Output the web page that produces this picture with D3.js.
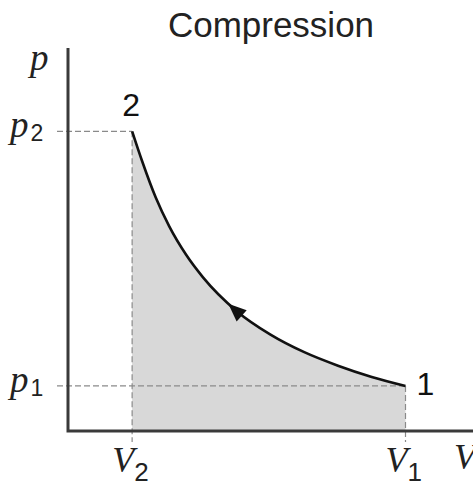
<!DOCTYPE html>
<html>
<head>
<meta charset="utf-8">
<script src="https://cdn.jsdelivr.net/npm/d3@7"></script>
<style>
  html, body { margin: 0; padding: 0; background: #fff; }
  svg { display: block; }
</style>
</head>
<body>
<script>
// State points of the compression (V in arbitrary volume units, p in pressure units)
const V1 = 10.0, V2 = 1.9;
const p1 = 1.0,  p2 = 6.65;

// Compression path 1 -> 2, sampled along the curve
const curveV = [1.9, 2.2, 2.6, 3.0, 3.5, 4.0, 5.0, 6.0, 7.0, 8.0, 9.0, 10.0];
const curveP = [6.65, 5.98, 5.18, 4.54, 3.91, 3.41, 2.66, 2.14, 1.75, 1.45, 1.20, 1.0];

// Where the direction arrow sits on the path
const arrowV = 4.75;

const title = "Compression";
const pointLabels = ["1", "2"];

const W = 473, H = 486;
const x = d3.scaleLinear().domain([0, 12]).range([68, 473]);
const y = d3.scaleLinear().domain([0, 8.5]).range([431, 48]);

const svg = d3.select("body").append("svg")
  .attr("width", W).attr("height", H)
  .attr("viewBox", `0 0 ${W} ${H}`);

const pts = curveV.map((v, i) => ({ v, p: curveP[i] }));

// Shaded work area under the curve
const area = d3.area()
  .x(d => x(d.v)).y0(y(0)).y1(d => y(d.p))
  .curve(d3.curveMonotoneX);
svg.append("path").datum(pts)
  .attr("d", area)
  .attr("fill", "#d8d8d8");

// Dashed guide lines to the axes
const dash = { stroke: "#8a8a8a", width: 1.2, arr: "6,3" };
const guides = [
  [x(0) - 11, y(p2), x(V2), y(p2)],
  [x(0) - 11, y(p1), x(V1), y(p1)],
  [x(V2), y(p2), x(V2), y(0) + 11],
  [x(V1), y(p1), x(V1), y(0) + 11]
];
svg.append("g").selectAll("line").data(guides).join("line")
  .attr("x1", d => d[0]).attr("y1", d => d[1])
  .attr("x2", d => d[2]).attr("y2", d => d[3])
  .attr("stroke", dash.stroke).attr("stroke-width", dash.width)
  .attr("stroke-dasharray", dash.arr);

// Axes
const axisColor = "#3a3a3a";
svg.append("path")
  .attr("d", `M${x(0)},${y(8.5)} V${y(0)} H${x(12)}`)
  .attr("fill", "none").attr("stroke", axisColor)
  .attr("stroke-width", 3).attr("stroke-linejoin", "miter");

// Process curve
const line = d3.line().x(d => x(d.v)).y(d => y(d.p)).curve(d3.curveMonotoneX);
const curvePath = svg.append("path").datum(pts)
  .attr("d", line)
  .attr("fill", "none").attr("stroke", "#111")
  .attr("stroke-width", 2.6);

// Arrowhead pointing from state 1 toward state 2
(function () {
  const node = curvePath.node();
  const L = node.getTotalLength();
  const tx = x(arrowV);
  let lo = 0, hi = L;
  for (let k = 0; k < 40; k++) {
    const mid = (lo + hi) / 2;
    if (node.getPointAtLength(mid).x < tx) lo = mid; else hi = mid;
  }
  const s = (lo + hi) / 2;
  const tip = node.getPointAtLength(s);
  const a = node.getPointAtLength(Math.max(0, s - 2));
  const b = node.getPointAtLength(Math.min(L, s + 2));
  // unit vector pointing back along the path (toward state 1)
  let dx = b.x - a.x, dy = b.y - a.y;
  const n = Math.hypot(dx, dy); dx /= n; dy /= n;
  const len = 18, half = 7.5;
  const bx = tip.x + dx * len, by = tip.y + dy * len;
  const px = -dy, py = dx;
  svg.append("path")
    .attr("d", `M${tip.x},${tip.y} L${bx + px * half},${by + py * half} L${bx - px * half},${by - py * half} Z`)
    .attr("fill", "#111");
})();

// Text
const sans = "'Liberation Sans', Arial, Helvetica, sans-serif";
const serif = "'Liberation Serif', 'Times New Roman', serif";

svg.append("text")
  .attr("x", 271).attr("y", 37)
  .attr("text-anchor", "middle")
  .attr("font-family", sans).attr("font-size", 35)
  .attr("fill", "#222")
  .text(title);

// State labels
svg.append("text")
  .attr("x", x(V2) - 1).attr("y", y(p2) - 15)
  .attr("text-anchor", "middle")
  .attr("font-family", sans).attr("font-size", 32).attr("fill", "#111")
  .text(pointLabels[1]);
svg.append("text")
  .attr("x", x(V1) + 11).attr("y", y(p1) + 9)
  .attr("font-family", sans).attr("font-size", 32).attr("fill", "#111")
  .text(pointLabels[0]);

// Axis names
svg.append("text")
  .attr("x", 30).attr("y", 70)
  .attr("font-family", serif).attr("font-style", "italic")
  .attr("font-size", 37).attr("fill", "#222")
  .text("p");
svg.append("text")
  .attr("x", 454).attr("y", 469)
  .attr("font-family", serif).attr("font-style", "italic")
  .attr("font-size", 36).attr("fill", "#222")
  .text("V");

// Pressure tick labels p₂, p₁
function pLabel(val, sub) {
  const t = svg.append("text")
    .attr("x", 10).attr("y", y(val) + 6)
    .attr("fill", "#222");
  t.append("tspan")
    .attr("font-family", serif).attr("font-style", "italic")
    .attr("font-size", 37).text("p");
  t.append("tspan")
    .attr("font-family", sans).attr("font-size", 23)
    .attr("dx", 2).attr("dy", 4).text(sub);
}
pLabel(p2, "2");
pLabel(p1, "1");

// Volume tick labels V₂, V₁
function vLabel(val, sub) {
  const t = svg.append("text")
    .attr("x", x(val) - 20).attr("y", 472)
    .attr("fill", "#222");
  t.append("tspan")
    .attr("font-family", serif).attr("font-style", "italic")
    .attr("font-size", 36).text("V");
  t.append("tspan")
    .attr("font-family", sans).attr("font-size", 26)
    .attr("dx", 0).attr("dy", 9).text(sub);
}
vLabel(V2, "2");
vLabel(V1, "1");
</script>
</body>
</html>
